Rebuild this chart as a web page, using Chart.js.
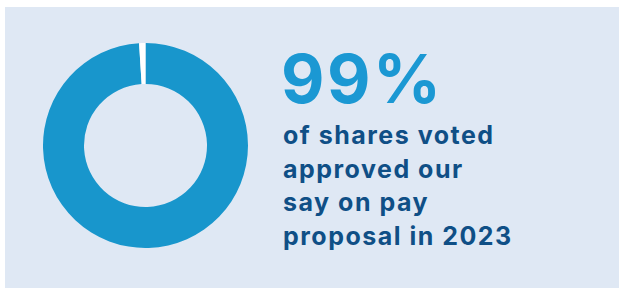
<!DOCTYPE html>
<html lang="en">
<head>
  <meta charset="UTF-8">
  <title>Say on pay</title>
  <script src="https://cdn.jsdelivr.net/npm/chart.js"></script>
  <style>
    body {
      margin: 0;
      width: 624px;
      height: 288px;
      background-color: #ffffff;
      overflow: hidden;
      font-family: Inter, "Open Sans", sans-serif;
    }
    .panel {
      position: absolute;
      left: 5px;
      top: 7px;
      width: 614px;
      height: 281px;
      background-color: #dfe8f4;
    }
    .donut {
      position: absolute;
      left: 43px;
      top: 43px;
      width: 205px;
      height: 205px;
    }
    .big {
      position: absolute;
      left: 281px;
      top: 45px;
      font-size: 67px;
      line-height: 67px;
      font-weight: 700;
      letter-spacing: 2.5px;
      color: #1b98d3;
    }
    .caption {
      position: absolute;
      left: 283px;
      top: 119px;
      font-size: 25px;
      line-height: 33.5px;
      font-weight: 700;
      letter-spacing: 1.5px;
      color: #0f4f86;
    }
  </style>
</head>
<body>
  <div class="panel"></div>
  <div class="donut"><canvas id="voteChart"></canvas></div>
  <div class="big" id="bigNumber"></div>
  <div class="caption">of shares voted<br>approved our<br>say on pay<br>proposal in 2023</div>

  <script>
    // Chart Data
    var labels = ['For', 'Against'];
    var shares = [99, 1];
    var colors = ['#1896cc', '#ffffff'];

    document.getElementById('bigNumber').textContent = shares[0] + '%';

    var voteCtx = document.getElementById('voteChart').getContext('2d');
    var voteChart = new Chart(voteCtx, {
      type: 'doughnut',
      data: {
        labels: labels,
        datasets: [{
          data: shares,
          backgroundColor: colors,
          borderWidth: 0
        }]
      },
      options: {
        responsive: true,
        maintainAspectRatio: false,
        animation: false,
        cutout: '60%',
        layout: { padding: 0 },
        plugins: {
          legend: { display: false },
          tooltip: { enabled: false }
        }
      }
    });
  </script>
</body>
</html>
